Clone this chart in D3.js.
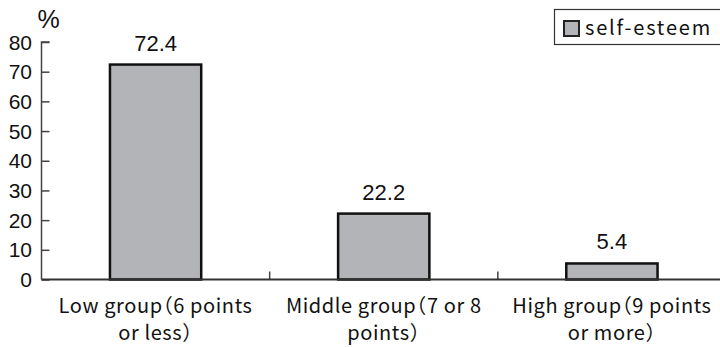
<!DOCTYPE html>
<html><head><meta charset="utf-8">
<script src="https://cdn.jsdelivr.net/npm/d3@7"></script>
<style>body{margin:0;background:#fff}svg{display:block}</style>
</head><body>
<svg id="c" width="720" height="347"></svg>
<script>
const categories = [["Low group（6 points","or less）"],["Middle group（7 or 8","points）"],["High group（9 points","or more）"]];
const values = [72.4, 22.2, 5.4];
const valueLabels = ["72.4","22.2","5.4"];
const yTicks = [0,10,20,30,40,50,60,70,80];
const seriesName = "self-esteem";

const svg = d3.select("#c");
const mLeft = 41.5, mRight = 726, mTop = 42, mBottom = 279.5;
const x = d3.scaleBand().domain(d3.range(categories.length)).range([mLeft, mRight]).paddingInner(0).paddingOuter(0);
const y = d3.scaleLinear().domain([0,80]).range([mBottom, mTop]);
const numFont = "'Liberation Sans', Arial, sans-serif";
const jpFont = "'Noto Sans CJK JP', sans-serif";

// y axis
const yAxis = svg.append("g").attr("transform", `translate(${mLeft},0)`)
  .call(d3.axisRight(y).tickValues(yTicks).tickSize(8).tickFormat(""));
yAxis.select(".domain").attr("stroke","#444").attr("stroke-width",1.5).attr("d",`M8,${mTop}H0V${mBottom}`);
yAxis.selectAll(".tick line").attr("stroke","#444").attr("stroke-width",1.5);
svg.append("g").selectAll("text").data(yTicks).join("text")
  .attr("x", 32).attr("y", d => y(d)).attr("dy","0.36em").attr("text-anchor","end")
  .attr("font-family", numFont).attr("font-size", 21).attr("fill","#111").text(d => d);
svg.append("text").attr("x",48.5).attr("y",28).attr("text-anchor","middle")
  .attr("font-family", numFont).attr("font-size",25).attr("fill","#111").text("%");

// category ticks
svg.append("g").selectAll("line").data(d3.range(1,categories.length)).join("line")
  .attr("x1", d => x(d)).attr("x2", d => x(d)).attr("y1", mBottom).attr("y2", mBottom-8)
  .attr("stroke","#444").attr("stroke-width",1.5);

// bars
const bw = x.bandwidth()*0.4;
svg.append("g").selectAll("rect").data(values).join("rect")
  .attr("x",(d,i)=> x(i)+x.bandwidth()/2 - bw/2).attr("width", bw)
  .attr("y", d => y(d)).attr("height", d => mBottom - y(d))
  .attr("fill","#b3b4b8").attr("stroke","#111").attr("stroke-width",2.5);

// x axis baseline
svg.append("line").attr("x1",mLeft).attr("x2",720).attr("y1",mBottom).attr("y2",mBottom)
  .attr("stroke","#333").attr("stroke-width",2);

// value labels
svg.append("g").selectAll("text").data(values).join("text")
  .attr("x",(d,i)=> x(i)+x.bandwidth()/2).attr("y", d => y(d)-14)
  .attr("text-anchor","middle").attr("font-family", numFont).attr("font-size",22).attr("fill","#111")
  .text((d,i)=> valueLabels[i]);

// category labels
const cl = svg.append("g").selectAll("text").data(categories).join("text")
  .attr("text-anchor","middle").attr("font-family", jpFont).attr("font-size",20).attr("fill","#111")
  .style("font-feature-settings","'halt'").attr("letter-spacing",0.6);
cl.each(function(d,i){
  const t = d3.select(this);
  d.forEach((line,j)=> t.append("tspan").attr("x", x(i)+x.bandwidth()/2).attr("y", 313 + j*27).text(line));
});

// legend
svg.append("rect").attr("x",554.5).attr("y",9.5).attr("width",170).attr("height",35)
  .attr("fill","#fff").attr("stroke","#333").attr("stroke-width",1.2);
svg.append("rect").attr("x",564).attr("y",21).attr("width",15).attr("height",15)
  .attr("fill","#b3b4b8").attr("stroke","#222").attr("stroke-width",2);
svg.append("text").attr("x",585).attr("y",35).attr("font-family", jpFont).attr("font-size",20)
  .attr("letter-spacing",1.8).attr("fill","#111").text(seriesName);
</script>
</body></html>
